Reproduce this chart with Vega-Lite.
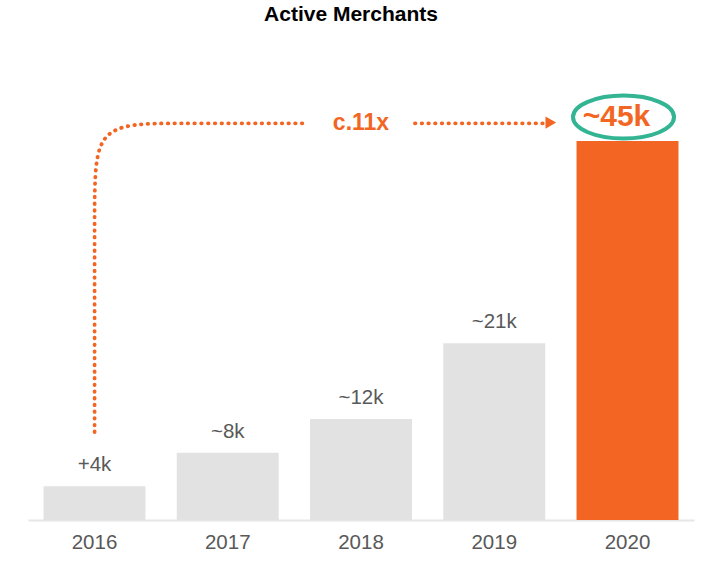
{
  "$schema": "https://vega.github.io/schema/vega-lite/v6.json",
  "width": 666,
  "height": 480,
  "autosize": "none",
  "padding": {"left": 28, "top": 40, "right": 26, "bottom": 68},
  "background": "white",
  "title": {
    "text": "Active Merchants",
    "fontSize": 21,
    "font": "Liberation Sans",
    "fontWeight": "bold",
    "color": "#000000",
    "anchor": "middle",
    "frame": "group",
    "offset": -2,
    "baseline": "alphabetic",
    "dx": -10
  },
  "config": {"view": {"stroke": null}, "font": "Liberation Sans"},
  "datasets": {
    "bars": [
      {"year": "2016", "value": 4, "label": "+4k"},
      {"year": "2017", "value": 8, "label": "~8k"},
      {"year": "2018", "value": 12, "label": "~12k"},
      {"year": "2019", "value": 21, "label": "~21k"},
      {"year": "2020", "value": 45, "label": "~45k"}
    ],
    "path": [
      {"seg": "A", "i": 0, "u": 0.5, "value": 10.45},
      {"seg": "A", "i": 1, "u": 0.5, "value": 38.0},
      {"seg": "A", "i": 2, "u": 0.5, "value": 47.1},
      {"seg": "A", "i": 3, "u": 1.066, "value": 47.1},
      {"seg": "A", "i": 4, "u": 2.08, "value": 47.1},
      {"seg": "B", "i": 0, "u": 2.905, "value": 47.1},
      {"seg": "B", "i": 1, "u": 3.866, "value": 47.1}
    ],
    "arrow": [{"u": 3.925, "value": 47.2}],
    "note": [{"u": 2.5, "value": 47.1, "text": "c.11x"}]
  },
  "layer": [
    {
      "data": {"name": "bars"},
      "encoding": {
        "x": {
          "field": "year",
          "type": "ordinal",
          "scale": {"paddingInner": 0.235, "paddingOuter": 0.1165},
          "axis": {
            "title": null,
            "labelAngle": 0,
            "labelFontSize": 20.5,
            "labelColor": "#595959",
            "labelPadding": 12,
            "ticks": false,
            "domainColor": "#e6e6e6",
            "domainWidth": 2,
            "grid": false
          }
        },
        "y": {
          "field": "value",
          "type": "quantitative",
          "scale": {"domain": [0, 57], "nice": false},
          "axis": null
        }
      },
      "layer": [
        {
          "mark": {"type": "bar"},
          "encoding": {
            "color": {
              "condition": {"test": "datum.year === '2020'", "value": "#f26522"},
              "value": "#e2e2e2"
            }
          }
        },
        {
          "transform": [{"filter": "datum.year !== '2020'"}],
          "mark": {"type": "text", "dy": -21, "baseline": "middle", "fontSize": 20.5, "color": "#595959"},
          "encoding": {"text": {"field": "label"}}
        },
        {
          "transform": [{"filter": "datum.year === '2020'"}],
          "mark": {"type": "text", "dy": -24, "dx": -11, "baseline": "middle", "fontSize": 30, "fontWeight": "bold", "color": "#f26522"},
          "encoding": {"text": {"field": "label"}}
        },
        {
          "transform": [{"filter": "datum.year === '2020'"}],
          "mark": {
            "type": "point",
            "shape": "M -1.09 -0.48 A 1.01 0.43 0 1 1 0.93 -0.48 A 1.01 0.43 0 1 1 -1.09 -0.48 Z",
            "size": 10000,
            "filled": false,
            "stroke": "#33b594",
            "strokeWidth": 4,
            "opacity": 1
          }
        }
      ]
    },
    {
      "encoding": {
        "x": {
          "field": "u",
          "type": "quantitative",
          "scale": {"domain": [0, 5], "nice": false, "zero": false},
          "axis": null
        },
        "y": {
          "field": "value",
          "type": "quantitative",
          "scale": {"domain": [0, 57], "nice": false},
          "axis": null
        }
      },
      "layer": [
        {
          "data": {"name": "path"},
          "mark": {
            "type": "line",
            "interpolate": "basis",
            "color": "#f26522",
            "strokeWidth": 3.8,
            "strokeDash": [0.5, 6.2],
            "strokeCap": "round"
          },
          "encoding": {
            "detail": {"field": "seg"},
            "order": {"field": "i", "type": "quantitative"}
          }
        },
        {
          "data": {"name": "arrow"},
          "mark": {"type": "point", "shape": "triangle-right", "filled": true, "size": 150, "color": "#f26522", "opacity": 1}
        },
        {
          "data": {"name": "note"},
          "mark": {"type": "text", "baseline": "middle", "fontSize": 23, "fontWeight": "bold", "color": "#f26522"},
          "encoding": {"text": {"field": "text"}}
        }
      ]
    }
  ],
  "resolve": {"scale": {"x": "independent"}}
}
